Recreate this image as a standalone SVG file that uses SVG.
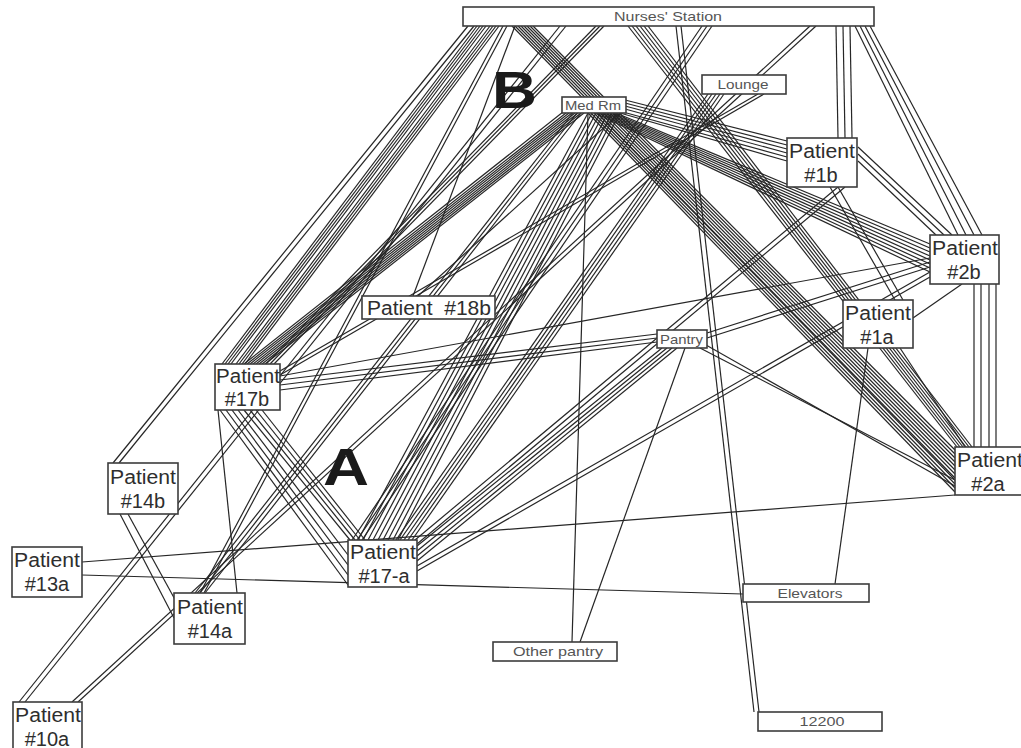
<svg xmlns="http://www.w3.org/2000/svg" width="1021" height="748" viewBox="0 0 1021 748">
<style>
.c line{stroke:#262626;stroke-width:1.2;fill:none}
.n rect{fill:#fff;stroke:#3c3c3c;stroke-width:1.6}
.t{font-family:"Liberation Sans",Arial,sans-serif;fill:#2e2e2e}
.p{font-size:20px}
.s{font-size:13px;fill:#555}
.L{font-family:"Liberation Sans",Arial,sans-serif;font-weight:bold;font-size:52px;fill:#1a1a1a}
</style>
<rect width="1021" height="748" fill="#fff"/>
<g id="connectors" class="c">
<line x1="468" y1="26" x2="113" y2="463"/><line x1="474" y1="26" x2="119" y2="463"/>
<line x1="477" y1="26" x2="222" y2="364"/><line x1="480" y1="26" x2="225" y2="364"/><line x1="483" y1="26" x2="228" y2="364"/><line x1="486" y1="26" x2="231" y2="364"/>
<line x1="490" y1="26" x2="236" y2="364"/><line x1="493" y1="26" x2="239" y2="364"/><line x1="496" y1="26" x2="242" y2="364"/><line x1="499" y1="26" x2="245" y2="364"/>
<line x1="596" y1="26" x2="266" y2="364"/><line x1="600" y1="26" x2="270" y2="364"/><line x1="604" y1="26" x2="274" y2="364"/>
<line x1="503" y1="26" x2="200" y2="593"/><line x1="507" y1="26" x2="204" y2="593"/>
<line x1="515" y1="26" x2="413" y2="296"/>
<line x1="512" y1="26" x2="955" y2="478"/><line x1="515" y1="26" x2="955" y2="474"/><line x1="518" y1="26" x2="955" y2="470"/><line x1="521" y1="26" x2="955" y2="466"/>
<line x1="524" y1="26" x2="955" y2="462"/><line x1="527" y1="26" x2="955" y2="458"/><line x1="530" y1="26" x2="955" y2="454"/><line x1="533" y1="26" x2="955" y2="450"/>
<line x1="628" y1="26" x2="957" y2="447"/><line x1="632" y1="26" x2="960" y2="447"/><line x1="636" y1="26" x2="963" y2="447"/><line x1="640" y1="26" x2="966" y2="447"/><line x1="644" y1="26" x2="969" y2="447"/><line x1="648" y1="26" x2="972" y2="447"/>
<line x1="676" y1="26" x2="754" y2="712"/><line x1="681" y1="26" x2="759" y2="712"/>
<line x1="702" y1="26" x2="352" y2="540"/><line x1="707" y1="26" x2="357" y2="540"/><line x1="712" y1="26" x2="362" y2="540"/>
<line x1="810" y1="26" x2="72" y2="702"/><line x1="816" y1="26" x2="78" y2="702"/>
<line x1="560" y1="26" x2="19" y2="702"/><line x1="566" y1="26" x2="25" y2="702"/>
<line x1="836" y1="26" x2="838" y2="138"/><line x1="843" y1="26" x2="845" y2="138"/><line x1="850" y1="26" x2="852" y2="138"/>
<line x1="855" y1="26" x2="958" y2="235"/><line x1="860" y1="26" x2="966" y2="235"/><line x1="865" y1="26" x2="974" y2="235"/><line x1="870" y1="26" x2="982" y2="235"/>
<line x1="974" y1="284" x2="974" y2="447"/><line x1="981" y1="284" x2="981" y2="447"/><line x1="989" y1="284" x2="989" y2="447"/><line x1="996" y1="284" x2="996" y2="447"/>
<line x1="858" y1="147" x2="952" y2="235"/><line x1="858" y1="154" x2="944" y2="235"/><line x1="858" y1="161" x2="936" y2="235"/>
<line x1="625" y1="100" x2="787" y2="141"/><line x1="625" y1="103" x2="787" y2="145"/><line x1="625" y1="106" x2="787" y2="149"/><line x1="625" y1="109" x2="787" y2="153"/><line x1="623" y1="112" x2="787" y2="157"/><line x1="620" y1="113" x2="787" y2="161"/>
<line x1="595" y1="113" x2="930" y2="272"/><line x1="598" y1="113" x2="930" y2="268"/><line x1="601" y1="113" x2="930" y2="264"/><line x1="604" y1="113" x2="930" y2="260"/>
<line x1="607" y1="113" x2="930" y2="256"/><line x1="610" y1="113" x2="930" y2="252"/><line x1="613" y1="113" x2="930" y2="248"/><line x1="616" y1="113" x2="930" y2="244"/>
<line x1="588" y1="113" x2="955" y2="492"/><line x1="591" y1="113" x2="955" y2="488"/><line x1="594" y1="113" x2="955" y2="484"/><line x1="597" y1="113" x2="955" y2="480"/>
<line x1="563" y1="112" x2="244" y2="364"/><line x1="566" y1="113" x2="247" y2="364"/><line x1="569" y1="113" x2="250" y2="364"/><line x1="572" y1="113" x2="253" y2="364"/>
<line x1="575" y1="113" x2="256" y2="364"/><line x1="578" y1="113" x2="259" y2="364"/><line x1="581" y1="113" x2="262" y2="364"/><line x1="584" y1="113" x2="265" y2="364"/>
<line x1="588" y1="113" x2="358" y2="540"/><line x1="592" y1="113" x2="363" y2="540"/><line x1="596" y1="113" x2="368" y2="540"/><line x1="600" y1="113" x2="373" y2="540"/><line x1="604" y1="113" x2="378" y2="540"/>
<line x1="608" y1="113" x2="383" y2="540"/><line x1="612" y1="113" x2="388" y2="540"/><line x1="616" y1="113" x2="393" y2="540"/><line x1="620" y1="113" x2="398" y2="540"/>
<line x1="588" y1="113" x2="572" y2="642"/>
<line x1="573" y1="113" x2="195" y2="593"/><line x1="577" y1="113" x2="200" y2="593"/><line x1="581" y1="113" x2="205" y2="593"/>
<line x1="620" y1="113" x2="418" y2="296"/>
<line x1="220" y1="410" x2="348" y2="585"/><line x1="226" y1="410" x2="348" y2="575"/><line x1="232" y1="410" x2="348" y2="565"/><line x1="238" y1="410" x2="348" y2="555"/>
<line x1="244" y1="410" x2="350" y2="540"/><line x1="250" y1="410" x2="355" y2="540"/><line x1="256" y1="410" x2="360" y2="540"/><line x1="262" y1="410" x2="365" y2="540"/>
<line x1="218" y1="410" x2="237" y2="593"/>
<line x1="280" y1="380" x2="657" y2="334"/><line x1="280" y1="385" x2="657" y2="338"/><line x1="280" y1="390" x2="657" y2="342"/>
<line x1="280" y1="376" x2="930" y2="258"/>
<line x1="707" y1="333" x2="930" y2="262"/><line x1="707" y1="338" x2="930" y2="267"/>
<line x1="700" y1="348" x2="955" y2="480"/><line x1="706" y1="345" x2="955" y2="486"/>
<line x1="685" y1="348" x2="580" y2="642"/>
<line x1="417" y1="566" x2="930" y2="272"/><line x1="417" y1="571" x2="930" y2="277"/>
<line x1="417" y1="546" x2="662" y2="348"/><line x1="417" y1="551" x2="667" y2="348"/><line x1="417" y1="556" x2="672" y2="348"/><line x1="417" y1="561" x2="677" y2="348"/>
<line x1="396" y1="540" x2="708" y2="94"/><line x1="400" y1="540" x2="712" y2="94"/><line x1="404" y1="540" x2="716" y2="94"/><line x1="408" y1="540" x2="720" y2="94"/><line x1="412" y1="540" x2="724" y2="94"/>
<line x1="838" y1="187" x2="415" y2="540"/><line x1="845" y1="187" x2="417" y2="544"/>
<line x1="830" y1="187" x2="895" y2="300"/><line x1="838" y1="187" x2="903" y2="300"/>
<line x1="962" y1="284" x2="913" y2="318"/>
<line x1="900" y1="348" x2="965" y2="447"/>
<line x1="868" y1="348" x2="835" y2="584"/>
<line x1="955" y1="495" x2="82" y2="562"/>
<line x1="82" y1="575" x2="743" y2="594"/>
<line x1="120" y1="514" x2="174" y2="618"/><line x1="128" y1="514" x2="178" y2="605"/>
<line x1="758" y1="94" x2="280" y2="371"/><line x1="764" y1="94" x2="280" y2="375"/>
</g>
<g id="ns" class="n"><rect x="463" y="7" width="411" height="19"/><text class="t s" x="668" y="21" text-anchor="middle" textLength="108" lengthAdjust="spacingAndGlyphs">Nurses' Station</text></g>
<g id="lounge" class="n"><rect x="702" y="75" width="84" height="19"/><text class="t s" x="743" y="89" text-anchor="middle" textLength="51" lengthAdjust="spacingAndGlyphs">Lounge</text></g>
<g id="medrm" class="n"><rect x="562" y="97" width="64" height="16"/><text class="t s" x="565" y="110" textLength="56" lengthAdjust="spacingAndGlyphs">Med Rm</text></g>
<g id="p1b" class="n"><rect x="787" y="138" width="70" height="49"/><text class="t p" x="789" y="158" textLength="66" lengthAdjust="spacingAndGlyphs">Patient</text><text class="t p" x="821" y="182" text-anchor="middle">#1b</text></g>
<g id="p2b" class="n"><rect x="930" y="235" width="69" height="49"/><text class="t p" x="932" y="255" textLength="66" lengthAdjust="spacingAndGlyphs">Patient</text><text class="t p" x="964" y="279" text-anchor="middle">#2b</text></g>
<g id="p1a" class="n"><rect x="843" y="300" width="70" height="48"/><text class="t p" x="845" y="320" textLength="66" lengthAdjust="spacingAndGlyphs">Patient</text><text class="t p" x="877" y="344" text-anchor="middle">#1a</text></g>
<g id="p2a" class="n"><rect x="955" y="447" width="70" height="48"/><text class="t p" x="957" y="467" textLength="66" lengthAdjust="spacingAndGlyphs">Patient</text><text class="t p" x="988" y="491" text-anchor="middle">#2a</text></g>
<g id="p18b" class="n"><rect x="362" y="296" width="133" height="23"/><text class="t p" x="367" y="315" textLength="124" lengthAdjust="spacingAndGlyphs" xml:space="preserve" style="white-space:pre">Patient  #18b</text></g>
<g id="pantry" class="n"><rect x="657" y="330" width="50" height="18"/><text class="t s" x="660" y="344" textLength="43" lengthAdjust="spacingAndGlyphs">Pantry</text></g>
<g id="p17b" class="n"><rect x="215" y="364" width="65" height="46"/><text class="t p" x="216" y="383" textLength="64" lengthAdjust="spacingAndGlyphs">Patient</text><text class="t p" x="247" y="406" text-anchor="middle">#17b</text></g>
<g id="p14b" class="n"><rect x="108" y="463" width="70" height="51"/><text class="t p" x="110" y="484" textLength="66" lengthAdjust="spacingAndGlyphs">Patient</text><text class="t p" x="143" y="508" text-anchor="middle">#14b</text></g>
<g id="p13a" class="n"><rect x="12" y="547" width="70" height="50"/><text class="t p" x="14" y="567" textLength="66" lengthAdjust="spacingAndGlyphs">Patient</text><text class="t p" x="47" y="591" text-anchor="middle">#13a</text></g>
<g id="p17a" class="n"><rect x="348" y="540" width="69" height="47"/><text class="t p" x="350" y="559" textLength="66" lengthAdjust="spacingAndGlyphs">Patient</text><text class="t p" x="384" y="583" text-anchor="middle">#17-a</text></g>
<g id="p14a" class="n"><rect x="174" y="593" width="71" height="51"/><text class="t p" x="177" y="614" textLength="66" lengthAdjust="spacingAndGlyphs">Patient</text><text class="t p" x="210" y="638" text-anchor="middle">#14a</text></g>
<g id="elevators" class="n"><rect x="743" y="584" width="126" height="18"/><text class="t s" x="810" y="598" text-anchor="middle" textLength="65" lengthAdjust="spacingAndGlyphs">Elevators</text></g>
<g id="otherpantry" class="n"><rect x="493" y="642" width="124" height="19"/><text class="t s" x="558" y="656" text-anchor="middle" textLength="90" lengthAdjust="spacingAndGlyphs">Other pantry</text></g>
<g id="n12200" class="n"><rect x="758" y="712" width="124" height="19"/><text class="t s" x="822" y="726" text-anchor="middle" textLength="45" lengthAdjust="spacingAndGlyphs">12200</text></g>
<g id="p10a" class="n"><rect x="13" y="702" width="69" height="50"/><text class="t p" x="15" y="722" textLength="66" lengthAdjust="spacingAndGlyphs">Patient</text><text class="t p" x="47" y="746" text-anchor="middle">#10a</text></g>
<g id="labels"><text class="L" x="492" y="108" textLength="45" lengthAdjust="spacingAndGlyphs">B</text><text class="L" x="323" y="485" textLength="46" lengthAdjust="spacingAndGlyphs">A</text></g>
</svg>
